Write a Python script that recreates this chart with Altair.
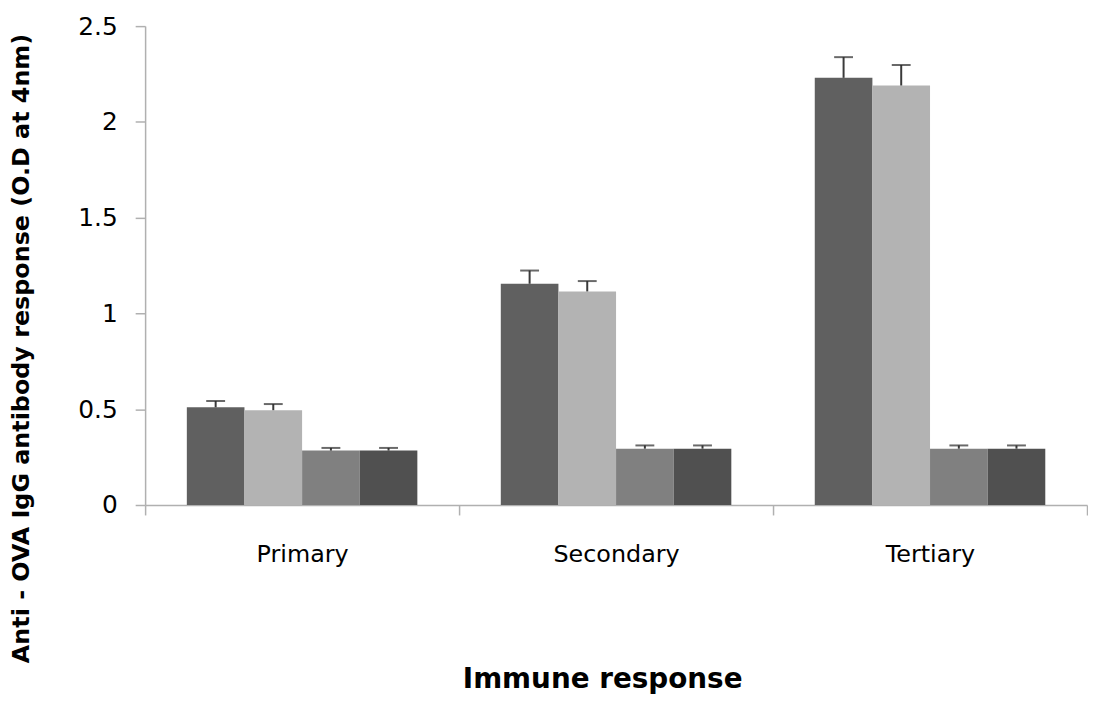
import altair as alt
import pandas as pd

categories = ["Primary", "Secondary", "Tertiary"]
series = ["Group 1", "Group 2", "Group 3", "Group 4"]
values_g1 = [0.51, 1.155, 2.23]
values_g2 = [0.495, 1.115, 2.19]
values_g3 = [0.284, 0.294, 0.294]
values_g4 = [0.284, 0.294, 0.294]
errors_g1 = [0.033, 0.069, 0.108]
errors_g2 = [0.032, 0.054, 0.107]
errors_g3 = [0.014, 0.017, 0.017]
errors_g4 = [0.014, 0.017, 0.017]
colors = ["#606060", "#b3b3b3", "#808080", "#505050"]
y_ticks = [0, 0.5, 1, 1.5, 2, 2.5]

rows = []
for s, vals, errs in zip(series, [values_g1, values_g2, values_g3, values_g4],
                         [errors_g1, errors_g2, errors_g3, errors_g4]):
    for c, v, e in zip(categories, vals, errs):
        rows.append({"category": c, "series": s, "value": v, "upper": v + e})
df = pd.DataFrame(rows)

FONT = "DejaVu Sans"

x_enc = alt.X(
    "category:N",
    sort=categories,
    scale=alt.Scale(paddingInner=0, paddingOuter=0),
    axis=alt.Axis(
        title="Immune response",
        titleFont=FONT, titleFontSize=28, titleFontWeight="bold", titleColor="#000000",
        titlePadding=100, titleX=460, titleAlign="center",
        labelFont=FONT, labelFontSize=24, labelColor="#000000", labelPadding=28,
        labelAngle=0,
        domainColor="#b0b0b0", domainWidth=1.5,
        tickColor="#b0b0b0", tickSize=10, tickWidth=1.5, tickBand="extent",
        grid=False,
    ),
)
xoff = alt.XOffset("series:N", sort=series,
                   scale=alt.Scale(paddingInner=0, paddingOuter=0.724))

y_scale = alt.Scale(domain=[0, 2.5], nice=False)

bars = alt.Chart(df).mark_bar().encode(
    x=x_enc,
    xOffset=xoff,
    y=alt.Y(
        "value:Q",
        scale=y_scale,
        axis=alt.Axis(
            title="Anti - OVA IgG antibody response (O.D at 4nm)",
            titleFont=FONT, titleFontSize=24, titleFontWeight="bold", titleColor="#000000",
            titleX=-124, titleY=324, titleAlign="center", titleBaseline="middle", titleAngle=-90,
            values=y_ticks, format="~g",
            labelFont=FONT, labelFontSize=25, labelColor="#000000", labelPadding=18,
            domainColor="#b0b0b0", domainWidth=1.5,
            tickColor="#b0b0b0", tickSize=10, tickWidth=1.5,
            grid=False,
        ),
    ),
    color=alt.Color("series:N", sort=series,
                    scale=alt.Scale(domain=series, range=colors), legend=None),
)

err = alt.Chart(df).mark_rule(color="#3a3a3a", strokeWidth=2).encode(
    x=alt.X("category:N", sort=categories),
    xOffset=xoff,
    y=alt.Y("value:Q", scale=y_scale),
    y2="upper:Q",
)

caps = alt.Chart(df).mark_tick(color="#2a2a2a", thickness=2, size=19).encode(
    x=alt.X("category:N", sort=categories),
    xOffset=xoff,
    y=alt.Y("upper:Q", scale=y_scale),
)

chart = (
    alt.layer(bars, err, caps)
    .properties(width=948, height=482, padding={"left": 2, "top": 4, "right": 0, "bottom": 0})
    .configure(background="#ffffff")
    .configure_view(stroke=None, strokeWidth=0)
)

chart.save("out.html", embed_options={"renderer": "svg", "actions": False})
